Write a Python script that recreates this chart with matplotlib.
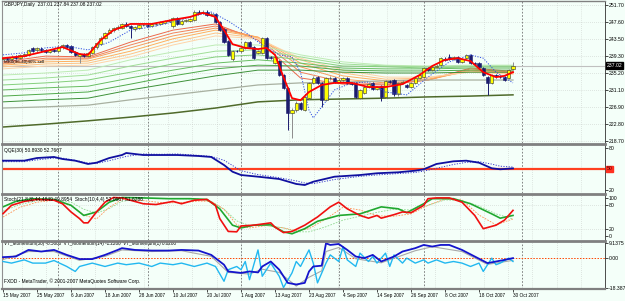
import numpy as np
import matplotlib
matplotlib.use("Agg")
import matplotlib.pyplot as plt
import matplotlib.transforms as mtransforms
from matplotlib.lines import Line2D

plt.rcParams['font.family'] = ['Liberation Sans', 'DejaVu Sans']

# ---------------- data ----------------
opens = [238.6, 238.9, 238.6, 239.2, 238.9, 239.4, 239.6, 241.2, 240.7, 241.1,
         240.7, 240.3, 240.8, 240.5, 241.4, 242.0, 241.8, 240.3, 239.3, 239.7,
         239.4, 240.0, 241.4, 242.2, 243.8, 244.9, 245.6, 246.0, 246.1, 247.2,
         246.6, 245.9, 246.2, 246.8, 246.9, 246.6, 247.0, 247.1, 247.4, 247.8,
         246.5, 248.5, 247.2, 247.8, 247.9, 248.0, 250.0, 249.8, 250.1, 249.3,
         249.4, 247.6, 245.9, 242.9, 238.6, 240.6, 240.6, 241.3, 242.7, 241.4,
         240.0, 240.1, 243.7, 239.1, 237.6, 238.0, 234.7, 231.6, 225.5, 226.2,
         227.9, 226.2, 229.1, 232.8, 234.2, 232.8, 228.7, 233.9, 234.0, 233.1,
         233.4, 234.0, 232.8, 232.8, 229.2, 230.4, 231.8, 232.8, 231.4, 232.0,
         229.4, 233.2, 233.5, 230.0, 232.8, 232.3, 231.8, 232.8, 234.0, 234.2,
         236.3, 236.0, 236.6, 237.1, 238.7, 239.1, 238.6, 239.1, 237.9, 238.8,
         239.6, 237.6, 237.6, 236.4, 234.2, 232.8, 234.6, 234.3, 234.2, 234.0,
         236.2]
closes = [238.9, 238.6, 239.2, 238.9, 239.5, 239.7, 240.8, 240.6, 241.3, 240.7,
          240.3, 240.8, 240.5, 241.4, 242.0, 241.5, 240.2, 239.6, 239.7, 239.4,
          240.1, 241.4, 242.4, 243.8, 244.9, 245.6, 246.1, 246.4, 247.1, 246.6,
          246.0, 246.3, 246.8, 246.9, 246.6, 247.0, 247.2, 247.5, 247.8, 248.1,
          248.5, 247.0, 247.9, 248.0, 248.2, 250.1, 249.8, 250.0, 249.3, 249.5,
          247.6, 245.6, 242.7, 239.6, 240.6, 240.5, 241.3, 242.7, 241.6, 238.8,
          240.6, 243.7, 238.8, 238.9, 239.1, 234.7, 231.6, 225.5, 226.2, 227.9,
          226.5, 229.4, 232.8, 234.0, 232.8, 228.7, 234.0, 234.1, 233.0, 233.5,
          234.0, 232.8, 232.5, 229.4, 231.0, 231.8, 232.5, 231.4, 231.7, 229.5,
          233.3, 233.0, 230.0, 232.8, 233.0, 231.8, 232.8, 234.0, 234.7, 236.4,
          236.0, 236.6, 237.0, 238.8, 238.4, 238.6, 239.1, 237.9, 238.6, 239.6,
          237.6, 237.5, 236.6, 234.7, 232.8, 234.7, 234.4, 234.2, 233.5, 235.9,
          237.02]
highs = [239.2, 239.1, 239.5, 239.5, 239.8, 240.1, 241.1, 241.5, 241.6, 241.4,
         241.0, 241.1, 241.0, 241.7, 242.3, 242.3, 242.0, 240.6, 240.0, 240.0,
         240.4, 241.7, 242.6, 244.1, 245.2, 246.0, 246.4, 246.8, 247.4, 247.5,
         246.9, 246.6, 247.1, 247.2, 247.2, 247.3, 247.5, 247.8, 248.1, 248.4,
         248.8, 248.7, 248.2, 248.3, 248.5, 250.4, 250.6, 250.5, 250.4, 249.9,
         249.7, 247.9, 246.2, 243.2, 240.9, 240.9, 241.6, 243.0, 243.0, 241.7,
         240.9, 244.0, 244.0, 239.4, 239.4, 238.3, 235.0, 231.9, 226.8, 228.3,
         228.2, 229.7, 233.1, 234.4, 234.5, 233.1, 234.3, 234.5, 234.3, 233.8,
         234.3, 234.3, 233.1, 233.1, 231.3, 232.1, 232.8, 233.1, 232.0, 232.3,
         233.6, 233.6, 233.8, 233.1, 233.4, 232.6, 233.1, 234.3, 235.0, 236.7,
         236.6, 236.9, 237.3, 239.1, 239.0, 239.9, 239.4, 239.4, 238.9, 239.9,
         239.9, 237.9, 237.9, 236.7, 234.5, 235.0, 234.9, 234.6, 234.5, 236.2,
         237.84]
lows = [238.3, 238.3, 238.4, 238.6, 238.7, 239.1, 239.4, 240.3, 240.4, 240.4,
        240.0, 240.0, 240.2, 240.3, 241.1, 241.2, 240.0, 239.3, 237.6, 239.0,
        239.1, 239.8, 241.0, 241.9, 243.5, 244.6, 245.2, 245.7, 245.9, 246.3,
        243.8, 245.5, 245.9, 246.5, 246.3, 246.3, 246.7, 246.8, 247.1, 247.5,
        246.2, 246.8, 246.9, 247.5, 247.6, 247.8, 249.4, 249.5, 249.0, 249.0,
        247.3, 245.3, 242.4, 239.3, 238.2, 240.2, 240.3, 241.0, 241.3, 238.5,
        239.7, 239.8, 238.5, 238.6, 237.3, 234.4, 231.3, 221.4, 219.4, 225.8,
        226.2, 225.9, 228.8, 232.5, 232.5, 226.9, 228.4, 233.6, 232.7, 232.8,
        233.1, 232.5, 232.2, 229.1, 228.9, 230.1, 231.5, 231.1, 231.1, 228.5,
        229.1, 232.7, 229.7, 229.7, 232.5, 231.5, 231.5, 232.5, 233.7, 233.9,
        235.7, 235.7, 236.3, 236.8, 238.1, 238.3, 238.3, 237.6, 237.6, 238.5,
        237.3, 237.2, 236.3, 234.4, 229.9, 232.5, 234.1, 233.9, 233.2, 233.7,
        235.9]

# fast red average and the lagging dotted blue line
red_idx = [0, 5, 10, 14, 18, 20, 23, 26, 30, 35, 40, 44, 47, 50, 52, 54, 57, 60, 62, 64,
           66, 68, 70, 72, 75, 78, 82, 86, 90, 94, 98, 101, 104, 107, 110, 113, 116, 118, 120]
red_ma = [238.8, 239.3, 240.5, 241.5, 239.8, 239.6, 243.2, 245.6, 247.1, 247.1,
          248.1, 248.8, 249.8, 248.8, 245.6, 242.2, 241.3, 241.0, 241.3, 239.6,
          234.2, 229.1, 228.6, 230.6, 232.3, 232.8, 232.8, 231.8, 231.8, 232.5,
          234.7, 236.9, 238.4, 238.8, 238.1, 235.4, 234.2, 234.5, 235.4]
dot_idx = [0, 5, 10, 15, 20, 25, 30, 35, 40, 45, 49, 53, 57, 61, 65, 68, 70, 72, 73, 75,
           78, 82, 86, 90, 95, 100, 105, 110, 113, 116, 120]
dot_ma = [239.6, 240.1, 241.3, 241.7, 240.8, 242.7, 245.6, 246.4, 247.6, 249.0,
          250.0, 247.8, 245.1, 242.0, 239.6, 239.1, 235.4, 226.2, 224.3, 227.0,
          231.1, 232.8, 233.0, 230.6, 229.9, 234.2, 237.9, 239.6, 238.8, 235.4, 232.8]

# moving-average ribbon, sampled every 10 bars
rib_idx = [0, 10, 20, 30, 40, 50, 60, 70, 80, 90, 100, 110, 120]
short1 = [237.9, 239.3, 239.1, 242.7, 245.6, 247.1, 243.2, 234.0, 232.5, 232.3, 233.5, 236.4, 235.6]
short2 = [237.6, 238.8, 238.8, 242.0, 244.9, 246.6, 243.7, 235.4, 233.0, 232.5, 233.5, 236.2, 235.4]
short3 = [237.4, 238.4, 238.6, 241.3, 244.2, 246.1, 243.9, 236.7, 233.7, 232.8, 233.5, 235.9, 235.3]
short4 = [237.1, 237.9, 238.1, 240.5, 243.5, 245.6, 243.9, 237.6, 234.5, 233.3, 233.7, 235.7, 235.2]
short5 = [236.7, 237.4, 237.6, 239.8, 242.7, 244.9, 243.7, 238.4, 235.2, 233.7, 234.0, 235.7, 235.0]
short6 = [236.2, 236.9, 237.1, 239.1, 242.0, 244.2, 243.5, 238.8, 235.9, 234.2, 234.2, 235.4, 234.9]
long1 = [234.7, 235.2, 235.9, 238.4, 240.3, 242.0, 242.0, 239.6, 237.9, 237.1, 236.9, 237.1, 237.1]
long2 = [233.5, 234.0, 234.7, 236.9, 238.8, 240.5, 240.8, 239.1, 237.4, 236.9, 236.7, 236.9, 236.9]
long3 = [232.3, 232.8, 233.5, 235.4, 237.4, 239.1, 239.6, 238.4, 236.9, 236.7, 236.4, 236.7, 236.7]
long4 = [231.1, 231.6, 232.0, 234.0, 235.9, 237.6, 238.4, 237.6, 236.4, 236.2, 236.2, 236.4, 236.4]
long5 = [229.6, 230.1, 230.6, 232.5, 234.5, 236.2, 237.1, 236.9, 235.9, 235.7, 235.7, 235.9, 235.9]
long6 = [228.2, 228.7, 229.1, 231.1, 232.8, 234.5, 235.9, 235.9, 235.4, 235.2, 235.2, 235.4, 235.4]
grey_ma = [226.7, 227.0, 227.4, 228.7, 229.9, 231.1, 232.3, 232.8, 233.0, 233.3, 233.5, 233.5, 233.5]
olive_ma = [222.1, 222.8, 223.6, 224.5, 225.5, 226.7, 228.2, 228.7, 228.9, 229.1, 229.4, 229.6, 229.9]

# QQE
qqe_idx = [0, 5, 8, 12, 14, 17, 20, 22, 25, 28, 29, 33, 37, 41, 46, 49, 52, 54, 56, 60,
           65, 69, 71, 73, 78, 84, 88, 93, 97, 99, 102, 106, 109, 112, 115, 117, 120]
qqe_main = [61.9, 61.9, 65.7, 67.2, 64.3, 61.9, 57.2, 59.0, 65.7, 70.0,
            72.9, 70.0, 70.0, 70.0, 68.6, 67.2, 55.7, 46.1, 41.4, 39.0,
            35.7, 28.6, 27.1, 31.8, 39.0, 41.4, 43.9, 45.3, 47.6, 49.6,
            57.2, 61.0, 61.9, 59.0, 51.0, 49.6, 50.9]
qqe_slow = [60.5, 60.5, 63.0, 65.7, 65.5, 62.5, 58.5, 58.0, 61.9, 66.5,
            68.0, 71.5, 71.0, 71.5, 69.5, 68.0, 62.5, 55.0, 47.5, 42.0,
            37.5, 33.0, 30.0, 29.0, 35.0, 39.5, 41.5, 43.5, 45.0, 47.0,
            51.0, 56.5, 59.5, 60.5, 57.0, 54.0, 52.8]

# Stochastics
sto_red_idx = [0, 2, 5, 8, 12, 14, 16, 18, 19, 20, 22, 24, 26, 28, 30, 33, 36, 39, 40, 42,
               45, 48, 50, 51, 53, 55, 56, 59, 63, 64, 66, 68, 71, 74, 77, 79, 81, 84, 86, 88,
               89, 92, 94, 96, 99, 100, 102, 105, 108, 111, 113, 116, 118, 120]
sto_red = [58.5, 80, 90, 95, 93, 84, 63, 46, 35, 35, 63, 88, 100, 99, 93, 84, 82, 88, 90, 84,
           93, 95, 80, 46, 13, 12, 27, 29, 35, 24, 10, 13, 29, 50, 76, 88, 71, 54, 47, 54,
           47, 56, 63, 61, 80, 97, 99, 99, 88, 54, 20, 29, 42, 67]
sto_green_idx = [0, 3, 7, 12, 16, 19, 22, 25, 28, 33, 39, 44, 48, 51, 54, 56, 59, 63, 66, 68,
                 71, 74, 79, 84, 89, 93, 95, 99, 101, 106, 110, 115, 117, 120]
sto_green = [76, 90, 97, 95, 80, 54, 63, 88, 100, 99, 97, 97, 95, 71, 29, 22, 29, 30, 12, 7,
             20, 39, 54, 58, 76, 71, 61, 84, 97, 97, 84, 58, 47, 54]
sig_idx = [0, 4, 8, 12, 16, 19, 22, 25, 28, 33, 38, 42, 46, 49, 52, 55, 58, 62, 66, 69,
           72, 76, 80, 84, 88, 92, 96, 100, 104, 108, 112, 116, 120]
sto_red_sig = [50, 75, 88, 93, 80, 55, 45, 75, 95, 92, 86, 87, 91, 90, 70, 30, 22, 28, 22, 15,
               20, 45, 75, 68, 53, 52, 58, 80, 96, 94, 55, 30, 45]
sto_green_sig = [65, 82, 92, 95, 88, 70, 60, 72, 90, 98, 97, 97, 96, 90, 70, 40, 28, 28, 22, 12,
                 12, 25, 42, 52, 62, 70, 68, 80, 94, 92, 78, 58, 45]

# Momentum
mom30_idx = [0, 3, 6, 9, 12, 15, 18, 21, 24, 27, 28, 31, 35, 39, 42, 46, 49, 52, 53, 56,
             58, 60, 61, 63, 65, 67, 69, 71, 72, 73, 75, 76, 77, 79, 81, 83, 85, 87, 89, 92,
             94, 97, 99, 101, 103, 105, 108, 111, 114, 116, 118, 120]
mom30 = [0.5, 0.9, 5.0, 4.0, 5.0, 1.9, -0.7, -0.7, 1.9, 5.0, 6.1, 5.0, 4.6, 4.6, 5.0, 4.6,
         1.9, -4.2, -8.4, -9.3, -8.4, -9.0, -5.3, -2.2, -7.3, -15.5, -16.5, -15.5, -8.4, -5.3,
         -4.8, 9.1, 8.1, 8.7, 5.0, 0.9, -0.1, 1.9, -2.2, 0.9, 4.0, 6.1, 8.1, 7.1, 8.1, 8.1,
         5.0, 0.9, -3.2, -2.2, -1.2, -0.1]
mom14_idx = [0, 6, 12, 18, 24, 28, 35, 42, 49, 53, 58, 61, 65, 69, 72, 75, 76, 79, 83, 89,
             97, 101, 108, 114, 120]
mom14 = [-1.0, 4.0, 4.0, -1.5, 1.0, 5.0, 4.0, 4.5, 1.0, -9.0, -10.0, -7.0, -9.0, -17.5, -12.0,
         -8.0, 4.0, 6.5, -0.5, -3.0, 4.5, 7.0, 4.0, -4.0, -1.5]
mom1_idx = [0, 2, 5, 7, 10, 12, 15, 17, 18, 21, 24, 27, 29, 32, 35, 37, 40, 42, 45, 48,
            50, 52, 53, 55, 56, 57, 58, 60, 61, 63, 65, 66, 68, 69, 70, 72, 73, 74, 76, 77,
            79, 80, 81, 83, 84, 86, 87, 88, 90, 91, 92, 94, 95, 97, 99, 100, 102, 104, 106, 108,
            110, 112, 113, 115, 116, 117, 119, 120]
mom1 = [-2.2, -3.2, -1.2, -3.2, -3.2, -1.6, -5.3, -8.4, -5.3, -3.2,
        -5.3, -3.2, -4.2, -3.2, -5.3, -3.2, -4.2, -3.2, -5.3, -3.2,
        -5.3, -14.5, -7.3, -5.3, -7.3, -2.2, -13.5, 5.0, -11.4, -3.2,
        -11.4, -18.4, -9.3, -2.2, -5.3, 5.0, -3.2, -15.5, -3.2, 1.9,
        -2.2, 7.0, -1.2, -5.3, 3.0, -2.2, 0.9, -3.2, 3.0, -5.3,
        1.9, -3.2, -0.1, -3.2, -1.2, -3.2, -1.2, -3.2, -2.2, -3.2,
        -5.3, -3.2, -8.4, -0.1, -4.2, -3.2, -0.1, -2.2]

price_ticks = [251.70, 247.60, 243.50, 239.30, 235.20, 231.10, 226.90, 222.80, 218.70]
date_idx = [0, 8, 16, 24, 32, 40, 48, 56, 64, 72, 80, 88, 96, 104, 112, 120]
date_labels = ["15 May 2007", "25 May 2007", "6 Jun 2007", "18 Jun 2007", "28 Jun 2007",
               "10 Jul 2007", "20 Jul 2007", "1 Aug 2007", "13 Aug 2007", "23 Aug 2007",
               "4 Sep 2007", "14 Sep 2007", "26 Sep 2007", "8 Oct 2007", "18 Oct 2007",
               "30 Oct 2007"]
month_idx = [13, 34, 56, 79, 99, 122]

# ---------------- layout ----------------
W, H = 625, 301
BG = '#F4FFF9'
FS_AX = 3.7     # right-hand scale labels
FS_TXT = 3.5    # panel captions
fig = plt.figure(figsize=(W / 100, H / 100), dpi=100, facecolor=BG)


def rect(top, bottom):
    return [2 / W, 1 - bottom / H, 603 / W, (bottom - top) / H]


ax_main = fig.add_axes(rect(1, 143))
ax_qqe = fig.add_axes(rect(144, 193))
ax_sto = fig.add_axes(rect(194, 240))
ax_mom = fig.add_axes(rect(241, 289))
axes = [ax_main, ax_qqe, ax_sto, ax_mom]

x0 = -1 / 4.25
x1 = x0 + 603 / 4.25
grid_x = (np.arange(-14, 12) * 24.3 + 338 - 3) / 4.25

for ax in axes:
    ax.set_facecolor(BG)
    ax.set_xlim(x0, x1)
    for s in ('top', 'bottom'):
        ax.spines[s].set_visible(False)
    ax.spines['left'].set_color('#909090')
    ax.spines['left'].set_linewidth(0.8)
    ax.spines['right'].set_color('#303030')
    ax.spines['right'].set_linewidth(0.6)
    ax.yaxis.tick_right()
    ax.tick_params(axis='y', right=True, left=False, labelright=True, labelleft=False,
                   length=2, width=0.5, pad=0.8, labelsize=FS_AX, colors='black')
    ax.tick_params(axis='x', bottom=False, labelbottom=False)
    for gx in grid_x:
        if x0 < gx < x1:
            ax.axvline(gx, color='#C8CCC8', lw=0.5, ls=(0, (1, 2)), zorder=0)
    for m in month_idx:
        ax.axvline(m, color='#707070', lw=0.6, ls=(0, (2, 2)), zorder=0)

# ---------------- main price panel ----------------
ax = ax_main
ax.set_ylim(218.22, 252.67)
ax.set_yticks(price_ticks)
ax.set_yticklabels([f"{p:.2f}" for p in price_ticks])
for p in price_ticks:
    ax.axhline(p, color='#C8CCC8', lw=0.5, ls=(0, (1, 2)), zorder=0)
ax.axhline(closes[-1], color='#C0C0C0', lw=0.8, zorder=1)

short_cols = ['#EC6A4C', '#F2815A', '#F89A5C', '#FFAE5E', '#FFC286', '#FFD4A8']
long_cols = ['#BDEBB4', '#A0DE97', '#84CF7C', '#68BD61', '#50A94A', '#3E9139']
for vals, c in zip([short1, short2, short3, short4, short5, short6], short_cols):
    ax.plot(rib_idx, vals, color=c, lw=0.7, zorder=1)
for vals, c in zip([long1, long2, long3, long4, long5, long6], long_cols):
    ax.plot(rib_idx, vals, color=c, lw=0.7, zorder=1)
ax.plot(rib_idx, grey_ma, color='#A8B0A0', lw=0.9, zorder=1)
ax.plot(rib_idx, olive_ma, color='#4F6A2A', lw=1.1, zorder=1)

xb = np.arange(len(closes))
o = np.array(opens)
c = np.array(closes)
up = c >= o
wick_cols = np.where(up, '#8C8C8C', '#1C1C6E')
ax.vlines(xb, lows, highs, colors=wick_cols, lw=0.7, zorder=2)
body_bot = np.minimum(o, c)
body_h = np.maximum(np.abs(c - o), 0.1)
ax.bar(xb, body_h, bottom=body_bot, width=0.72,
       color=np.where(up, '#FFFF00', '#1C1C6E'),
       edgecolor=np.where(up, '#303030', '#1C1C6E'), linewidth=0.4, zorder=3)

ax.plot(dot_idx, dot_ma, color='#3050E0', lw=0.7, ls=(0, (1.2, 1.5)), zorder=4)
ax.plot(red_idx, red_ma, color='#FF0000', lw=1.3, zorder=4)

ax.text(0.004, 0.992, "GBPJPY,Daily  237.01 237.84 237.08 237.02", transform=ax.transAxes,
        va='top', ha='left', fontsize=FS_TXT, color='black')
ax.text(0.004, 0.57, "MR0(96-40)40% sell", transform=ax.transAxes,
        va='center', ha='left', fontsize=3.2, color='black')
blend = mtransforms.blended_transform_factory(ax.transAxes, ax.transData)
ax.text(1.003, closes[-1], "237.02", transform=blend, va='center', ha='left',
        fontsize=FS_AX, color='white',
        bbox=dict(boxstyle='square,pad=0.12', facecolor='black', edgecolor='black'))

# ---------------- QQE ----------------
ax = ax_qqe
ax.set_ylim(15.68, 85.75)
ax.set_yticks([80, 20])
ax.set_yticklabels(["80", "20"])
ax.axhline(50, color='#FF4020', lw=1.6, zorder=1)
ax.plot(qqe_idx, qqe_slow, color='#3A3ACC', lw=0.7, ls=(0, (1.2, 1.5)), zorder=2)
ax.plot(qqe_idx, qqe_main, color='#1010A0', lw=1.3, zorder=3)
ax.text(0.004, 0.86, "QQE(30) 50.8930 52.7667", transform=ax.transAxes,
        va='center', ha='left', fontsize=FS_TXT)
blend = mtransforms.blended_transform_factory(ax.transAxes, ax.transData)
ax.text(1.003, 50, "50", transform=blend, va='center', ha='left', fontsize=FS_AX,
        color='#5A0000',
        bbox=dict(boxstyle='square,pad=0.12', facecolor='#FF3020', edgecolor='#FF3020'))

# ---------------- Stochastics ----------------
ax = ax_sto
ax.set_ylim(-9, 109)
ax.set_yticks([100, 80, 20, 0])
ax.set_yticklabels(["100", "80", "20", "0"])
ax.axhline(80, color='#C8CCC8', lw=0.5, ls=(0, (1, 2)), zorder=0)
ax.axhline(20, color='#C8CCC8', lw=0.5, ls=(0, (1, 2)), zorder=0)
ax.plot(sig_idx, sto_green_sig, color='#90D890', lw=0.6, ls=(0, (2, 1.5)), zorder=1)
ax.plot(sig_idx, sto_red_sig, color='#FF9050', lw=0.6, ls=(0, (2, 1.5)), zorder=1)
ax.plot(sto_green_idx, sto_green, color='#20A830', lw=1.2, zorder=2)
ax.plot(sto_red_idx, sto_red, color='#F01010', lw=1.2, zorder=3)
ax.text(0.004, 0.88, "Stoch(21,8,8) 44.4849 49.8954  Stoch(10,4,4) 52.0667 51.6286",
        transform=ax.transAxes, va='center', ha='left', fontsize=FS_TXT)

# ---------------- Momentum ----------------
ax = ax_mom
ax.set_ylim(-19.31, 10.55)
ax.set_yticks([9.1375, 0, -18.3875])
ax.set_yticklabels(["9.1375", "0.00", "-18.3875"])
ax.axhline(0, color='#FF4500', lw=0.7, ls=(0, (1.5, 1.5)), zorder=1)
ax.plot(mom14_idx, mom14, color='#A8A8A8', lw=0.8, zorder=2)
ax.plot(mom1_idx, mom1, color='#22B8F0', lw=1.0, zorder=3)
ax.plot(mom30_idx, mom30, color='#1414CC', lw=1.3, zorder=4)
ax.text(0.004, 0.94, "VT_Momentum(30) -8.5800  VT_Momentum(14) -1.2200  VT_Momentum(1) 0.0280",
        transform=ax.transAxes, va='center', ha='left', fontsize=3.3)
ax.text(0.004, 0.17, "FXDD - MetaTrader, \u00a9 2001-2007 MetaQuotes Software Corp.",
        transform=ax.transAxes, va='center', ha='left', fontsize=FS_TXT)
ax.set_xticks(date_idx)
ax.set_xticklabels(date_labels, ha='left')
ax.tick_params(axis='x', bottom=True, labelbottom=True, length=2, width=0.5, pad=1,
               labelsize=3.4, colors='black')

# panel separators
for yy, lw in [(1, 1.0), (143.5, 2.0), (193.5, 2.0), (240.5, 2.0), (289.3, 1.6)]:
    fig.add_artist(Line2D([2 / W, 605 / W], [1 - yy / H, 1 - yy / H],
                          transform=fig.transFigure, color='#808080', lw=lw))

fig.savefig("out.png", dpi=100, facecolor=BG)
